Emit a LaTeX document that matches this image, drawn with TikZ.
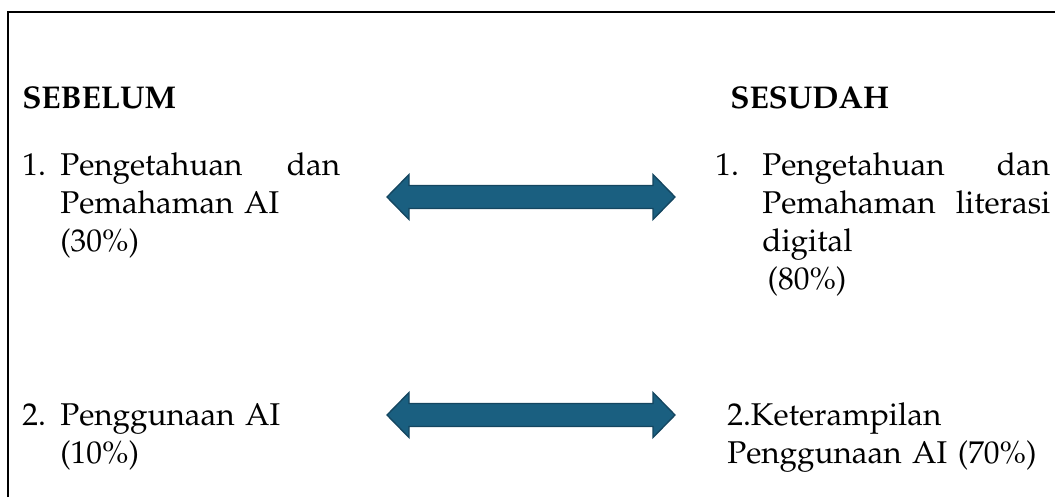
\documentclass[tikz,border=0pt]{standalone}
\usepackage[T1]{fontenc}
\usepackage{mathpazo}
\definecolor{arrowfill}{RGB}{26,95,128}
\definecolor{arrowedge}{RGB}{20,70,96}
\tikzset{
  head/.style={anchor=base west, inner sep=0pt, font=\fontsize{23.6}{28.5}\selectfont\bfseries},
  num/.style={anchor=base west, inner sep=0pt, font=\fontsize{23.6}{28.5}\selectfont},
  item/.style={anchor=base west, inner sep=0pt, font=\fontsize{23.6}{28.5}\selectfont, align=left},
  bigarrow/.style={fill=arrowfill, draw=arrowedge, line width=1pt, line join=miter}
}
\begin{document}
\begin{tikzpicture}[x=0.75pt, y=-0.75pt]
    \useasboundingbox (0,0) rectangle (1055,497);

    % bingkai (kiri + atas)
    \draw[line width=1.4pt] (8,497) -- (8,12) -- (1055,12);

    % ===== kolom kiri: SEBELUM =====
    \node[head] (sebelum) at (22,108) {SEBELUM};
    \node[num]  (nb1) at (22,175) {1.};
    \node[item, text width=210pt] (b1) at (60,175)
      {Pengetahuan\hfill dan\\Pemahaman AI\\(30\%)};
    \node[num]  (nb2) at (22,425) {2.};
    \node[item, text width=210pt] (b2) at (60,425)
      {Penggunaan AI\\(10\%)};

    % ===== kolom kanan: SESUDAH =====
    \node[head] (sesudah) at (730,108) {SESUDAH};
    \node[num]  (na1) at (715,175) {1.};
    \node[item, text width=216pt] (a1) at (762,175)
      {Pengetahuan\hfill dan\\Pemahaman\hfill literasi\\digital\\\hspace*{4pt}(80\%)};
    \node[item, text width=240pt] (a2) at (727,425)
      {2.Keterampilan\\Penggunaan AI (70\%)};

    % ujung panah dua arah
    \coordinate (p1l) at (387,197);
    \coordinate (p1r) at (675,197);
    \coordinate (p2l) at (387,415);
    \coordinate (p2r) at (675,415);

    % panah dua arah (kepala 22, batang 244)
    \foreach \pl/\pr in {p1l/p1r, p2l/p2r} {
      \draw[bigarrow] (\pl) -- ++(22,-22.5) -- ++(0,11) -- ++(244,0) -- ++(0,-11)
        -- (\pr) -- ++(-22,22.5) -- ++(0,-11) -- ++(-244,0) -- ++(0,11) -- cycle;
    }

\end{tikzpicture}
\end{document}
